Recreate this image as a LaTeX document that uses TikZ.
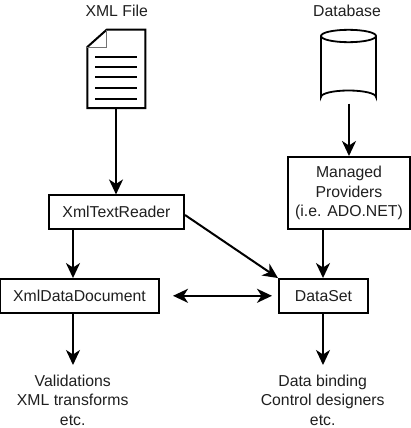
\documentclass[tikz,border=0pt]{standalone}
\usepackage{fontspec}
\setmainfont{Liberation Sans}
\usetikzlibrary{arrows.meta}
\tikzset{
  x=1pt,y=-1pt,
  boxnode/.style={draw=black,line width=2pt,fill=white,inner sep=0pt,align=center,font=\fontsize{15.8}{19.6}\selectfont,text=black!88},
  textnode/.style={inner sep=0pt,align=center,font=\fontsize{15.8}{19.6}\selectfont,text=black!88},
  conn/.style={line width=2pt,-{Stealth[length=15pt,width=14pt,inset=4.5pt]}},
  connboth/.style={line width=2pt,{Stealth[length=15pt,width=14pt,inset=4.5pt]}-{Stealth[length=15pt,width=14pt,inset=4.5pt]}}
}
\begin{document}
\begin{tikzpicture}
\useasboundingbox (0,0) rectangle (410,428);
\node[textnode] (xmllabel) at (116.7,11) {XML File};
\node[textnode] (dblabel) at (347,11) {Database};
% document icon
\draw[line width=2pt,fill=white,line join=miter] (106.7,29.7) -- (145.3,29.7) -- (145.3,108) -- (87.3,108) -- (87.3,47) -- cycle;
\draw[line width=1.2pt,black!55] (106.7,29.7) -- (106.7,47.5) -- (87.3,47.5);
\foreach \yy in {56.7,67,77.3,88,98.7} \draw[line width=2pt] (95,\yy) -- (137.3,\yy);
\coordinate (docbottom) at (116,108);
% database icon
\draw[line width=1.8pt,fill=white] (321,36) -- (321,97) arc[start angle=180,end angle=360,x radius=27.5,y radius=6.5] -- (376,36);
\draw[line width=1.8pt,fill=white] (348.5,36) ellipse[x radius=27.5,y radius=6.2];
\coordinate (dbbottom) at (349,103.5);
\node[boxnode,minimum width=135pt,minimum height=33.5pt] (reader) at (116.5,212.2) {XmlTextReader};
\node[boxnode,minimum width=159pt,minimum height=33.5pt] (xdoc) at (79.5,295.8) {XmlDataDocument};
\node[boxnode,minimum width=89pt,minimum height=33.5pt] (dset) at (323.5,295.8) {DataSet};
\node[boxnode,minimum width=122pt,minimum height=72pt] (mp) at (349,193) {Managed\\Providers\\(i.e. ADO.NET)};
\node[textnode] (vtext) at (72.7,400) {Validations\\XML transforms\\etc.};
\node[textnode] (btext) at (322.7,400) {Data binding\\Control designers\\etc.};
\coordinate (vtop) at (73,365);
\coordinate (btop) at (323,365);
\draw[conn] (docbottom) -- (reader.north -| docbottom);
\draw[conn] (dbbottom) -- (mp.north -| dbbottom);
\draw[conn] (reader.south -| vtop) -- (xdoc.north -| vtop);
\draw[conn] (reader.east |- 0,215) -- (dset.north west);
\draw[conn] (mp.south -| btop) -- (dset.north -| btop);
\draw[connboth,shorten <=13pt,shorten >=6pt] (xdoc.east) -- (dset.west);
\draw[conn] (xdoc.south -| vtop) -- (vtop);
\draw[conn] (dset.south -| btop) -- (btop);
\end{tikzpicture}
\end{document}
